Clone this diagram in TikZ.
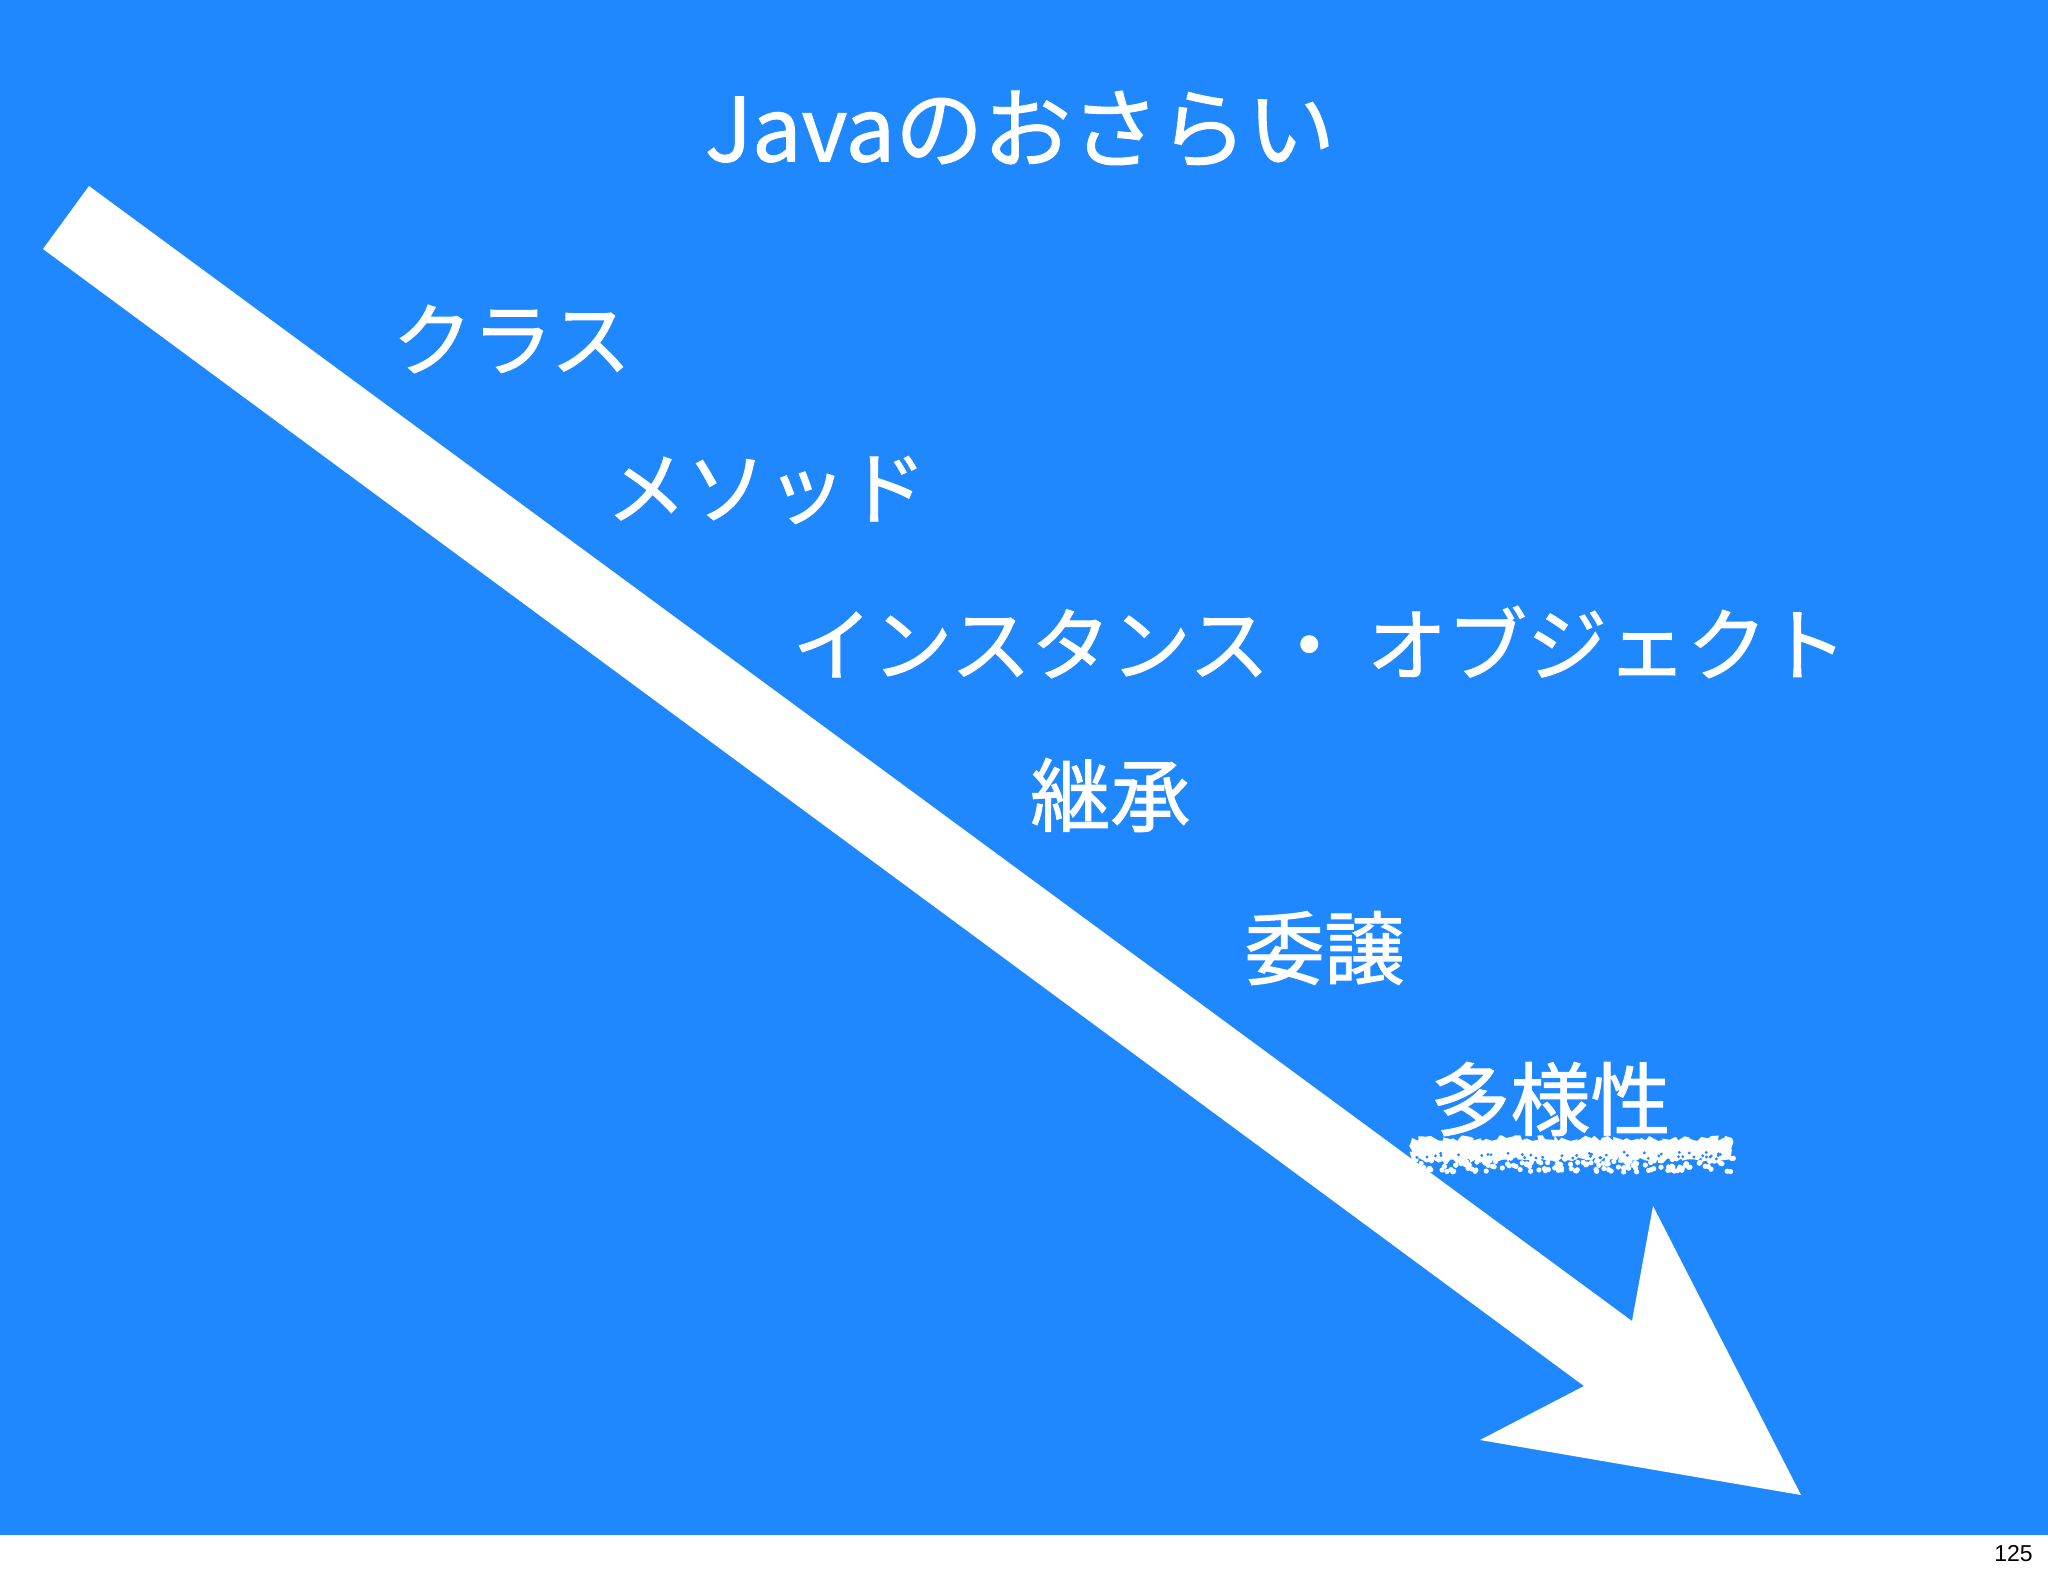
\documentclass[tikz,border=0pt]{standalone}
\usepackage{fontspec}
\setmainfont{Noto Sans CJK JP}
\newfontfamily\jpfont[BoldFont={Noto Sans CJK JP}, BoldFeatures={FakeBold=1.2}]{Noto Sans CJK JP}
\newfontfamily\pagefont{Liberation Sans}
\usepackage{tikz}
\usetikzlibrary{decorations.pathmorphing}
\definecolor{slideblue}{RGB}{31,136,255}
\tikzstyle{topic} = [anchor=west, inner sep=0pt, text=white, font=\jpfont\bfseries\fontsize{40}{48}\selectfont]
\tikzstyle{heading} = [inner sep=0pt, text=white, font=\jpfont\bfseries\fontsize{44}{52}\selectfont]

\begin{document}
\begin{tikzpicture}[x=0.5pt, y=-0.5pt]
\useasboundingbox (0,0) rectangle (2048,1576);
\fill[white] (0,0) rectangle (2048,1576);
\fill[slideblue] (0,0) rectangle (2048,1535);

% Arrow
\fill[white] (89,186) -- (1632,1321) -- (1653,1206) -- (1801,1495) -- (1480,1440)
  -- (1584,1386) -- (43,249) -- cycle;

% Title
\node[heading] (title) at (1020,129) {Javaのおさらい};

% Topics
\node[topic] (topic1) at (392,339) {クラス};
\node[topic] (topic2) at (606,490) {メソッド};
\node[topic] (topic3) at (792,642) {インスタンス・ オブジェクト};
\node[topic] (topic4) at (1030,795) {継承};
\node[topic] (topic5) at (1244,948) {委譲};
\node[topic] (topic6) at (1430,1099) {多様性};

% Chalk mark under the last topic
\pgfmathsetseed{17}
\fill[white, decorate, decoration={random steps, segment length=2pt, amplitude=1.5pt}]
  (1412,1138) rectangle (1732,1160);
\foreach \i in {1,...,170} {
  \pgfmathsetmacro\sx{1410+rnd*325}
  \pgfmathsetmacro\sy{1157+rnd*15}
  \fill[white] (\sx,\sy) circle (1.3pt);
}
\foreach \i in {1,...,45} {
  \pgfmathsetmacro\sx{1415+rnd*315}
  \pgfmathsetmacro\sy{1152+rnd*7}
  \fill[slideblue] (\sx,\sy) circle (0.8pt);
}

% Page number
\node[anchor=east, inner sep=0pt, font=\pagefont\fontsize{11.5}{13}\selectfont] (pageno) at (2033,1554) {125};
\end{tikzpicture}
\end{document}
